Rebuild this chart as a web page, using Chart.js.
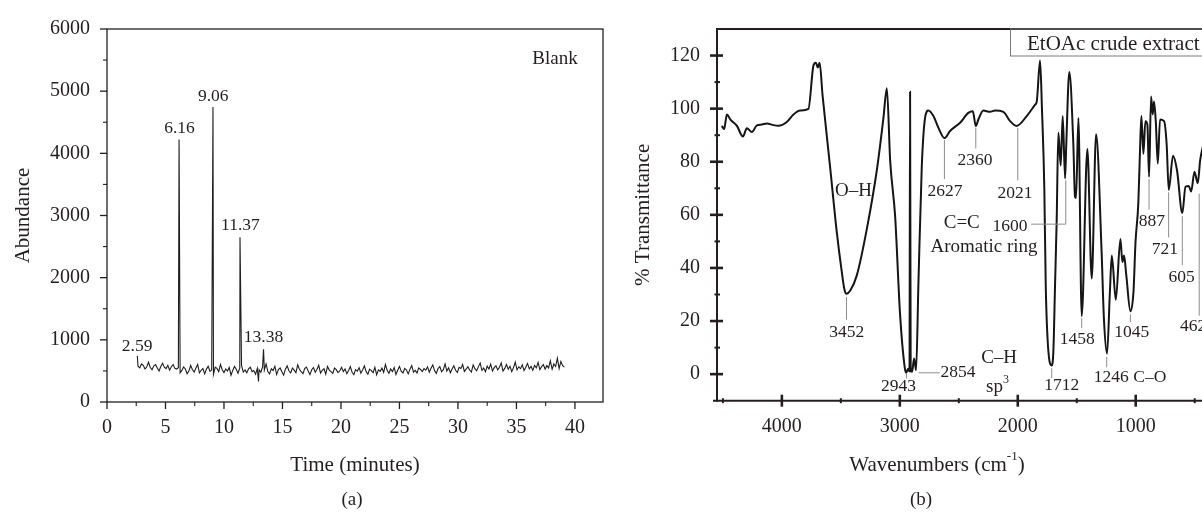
<!DOCTYPE html>
<html><head><meta charset="utf-8">
<script src="https://cdn.jsdelivr.net/npm/chart.js@4/dist/chart.umd.min.js"></script>
<style>
html,body{margin:0;padding:0;background:#fff;overflow:hidden;width:1202px;height:512px;position:relative;}
#ca{position:absolute;left:0;top:0;}
#cb{position:absolute;left:610px;top:0;}
</style></head><body>
<canvas id="ca" width="620" height="512"></canvas>
<canvas id="cb" width="620" height="512"></canvas>
<script>
// ---------- Panel (a): GC chromatogram (Blank) ----------
const gcStart = 2.65, gcStep = 0.15;
const gcBaseline = [
575,548,612,590,530,566,640,555,520,583,601,547,498,572,625,560,538,590,512,568,603,541,530,
552,470,508,563,531,455,497,588,522,480,546,605,468,510,537,452,529,574,493,515,446,560,541,488,603,519,474,532,498,556,431,508,571,526,462,545,590,482,517,470,533,559,489,505,448,541,520,
478,566,515,612,490,453,534,507,575,441,520,548,486,432,529,581,503,467,544,512,473,598,526,489,455,537,562,498,441,519,553,480,527,590,466,508,535,447,571,513,490,458,546,521,474,502,559,
488,532,455,507,569,478,440,521,496,553,463,515,582,490,447,528,506,471,559,438,517,493,545,476,603,509,462,531,488,556,444,512,573,497,468,540,515,452,528,586,481,509,466,548,523,490,537,
512,566,478,543,597,505,460,538,571,489,520,615,497,548,470,532,584,511,476,559,540,603,492,528,566,515,481,596,537,502,569,626,510,545,488,577,531,609,498,552,
584,516,558,629,497,541,603,526,575,489,553,642,518,566,537,598,505,560,621,534,572,509,590,550,636,522,568,601,530,585,548,664,527,612,571,705,538,652,583,560
];
const gcSpikeTimes  = [2.59, 6.16, 9.06, 11.37, 12.95, 13.38];
const gcSpikeValues = [742, 4224, 4744, 2650, 330, 849];
const gcPeakLabels  = ['2.59', '6.16', '9.06', '11.37', '13.38'];
const gcXTicks = [0, 5, 10, 15, 20, 25, 30, 35, 40];
const gcXMinor = [2.5, 7.5, 12.5, 17.5, 22.5, 27.5, 32.5, 37.5];
const gcYTicks = [0, 1000, 2000, 3000, 4000, 5000, 6000];
const gcYMinor = [500, 1500, 2500, 3500, 4500, 5500];

// ---------- Panel (b): FTIR spectrum (EtOAc crude extract) ----------
const irWn = [4509,4490,4466,4438,4381,4330,4297,4254,4212,4170,4127,4071,4030,3958,3902,3845,3775,3732,3712,3695,
3680,3655,3591,3534,3492,3470,3452,3420,3364,3280,3195,3139,3110,3082,3040,2998,2960,2947,2930,2918,
2913,2908,2896,2879,2862,2842,2814,2786,2758,2715,2673,2622,2574,2489,2419,2381,2356,2334,2292,2235,
2192,2122,2065,2010,1924,1853,1839,1811,1795,1775,1763,1741,1712,1698,1684,1670,1656,1636,1619,1599,
1590,1563,1529,1515,1506,1486,1458,1410,1373,1336,1290,1270,1243,1220,1203,1169,1130,1113,1099,1080,
1045,1019,1002,978,963,952,935,918,901,887,870,856,845,830,813,794,760,738,720,684,650,605,578,550,530,502,474,454,430];
const irT = [93.5,92.3,97.8,96,93.5,89.5,92.6,91.2,93.7,94,94.4,93.8,93.6,95,97.8,99.3,99.9,116.3,117.3,115.5,
117.3,105,78,53.3,38.5,32,30.3,31.5,37.3,54.6,76.8,96.5,107.7,80.5,59.6,22.5,3,0.5,2,1,
106.4,1,0.9,5.9,1.5,34.8,78,96.5,99.3,97.2,92.8,88.9,91.6,94.7,98.4,99,93.5,95.9,99.3,98.8,
99.3,98.8,95.3,93.5,97.2,101.5,102.7,118.1,100,70,33.6,8.9,3.3,8.9,33.7,58.3,91,78.6,97.2,73.7,
85,113.8,86.7,66.9,66.3,96.5,21.9,84.8,36,90.4,47,21.2,7.7,29.9,44.7,28,50.9,42.2,44.7,37.3,
23.7,31.1,49.6,64.4,85.4,97.2,83,95.3,94,74.3,104.6,97.8,102.7,95.3,79.3,95.9,95.3,86.7,69.4,82.3,
76.8,60.7,70.6,70.9,68.8,76.2,71.9,80.5,86];
const irXTicks = [4000, 3000, 2000, 1000];
const irXMinor = [4500, 3500, 2500, 1500, 500];
const irYTicks = [0, 20, 40, 60, 80, 100, 120];
const irYMinor = [10, 30, 50, 70, 90, 110];
const irPeakLabels = ['3452','2943','2854','1712','1458','1246 C–O','1045','462','605','721','887','2627','2360','2021','1600'];

// ---------- helpers ----------
const FONT = "'Liberation Serif', 'Times New Roman', serif";
const INK = '#231f20';
const LEAD = '#8c8c8c';
function txt(ctx, s, x, y, size, align, base) {
  ctx.font = size + 'px ' + FONT; ctx.fillStyle = INK;
  ctx.textAlign = align || 'center'; ctx.textBaseline = base || 'middle';
  ctx.fillText(s, x, y);
}
function seg(ctx, x1, y1, x2, y2, w, c) {
  ctx.beginPath(); ctx.lineWidth = w; ctx.strokeStyle = c || INK;
  ctx.moveTo(x1, y1); ctx.lineTo(x2, y2); ctx.stroke();
}
function supText(ctx, base, sup, tail, cx, cy, size) {
  ctx.font = size + 'px ' + FONT; const w1 = ctx.measureText(base).width; const w3 = ctx.measureText(tail).width;
  const ss = Math.round(size * 0.62);
  ctx.font = ss + 'px ' + FONT; const w2 = ctx.measureText(sup).width;
  let x = cx - (w1 + w2 + w3) / 2;
  txt(ctx, base, x, cy, size, 'left'); x += w1;
  txt(ctx, sup, x, cy - size * 0.38, ss, 'left'); x += w2;
  txt(ctx, tail, x, cy, size, 'left');
}
function vTitle(ctx, s, x, y, size) {
  ctx.save(); ctx.translate(x, y); ctx.rotate(-Math.PI / 2); txt(ctx, s, 0, 0, size); ctx.restore();
}

// ---------- build panel (a) series ----------
const gcPoints = gcBaseline.map((v, i) => ({x: +(gcStart + i * gcStep).toFixed(3), y: v}));
gcSpikeTimes.forEach((t, i) => gcPoints.push({x: t, y: gcSpikeValues[i]}));
gcPoints.sort((a, b) => a.x - b.x);

const gcLabelSpots = [[2.58, 901], [6.2, 4399], [9.08, 4908], [11.41, 2846], [13.38, 1045]];

const gcDeco = {
  id: 'gcDeco',
  afterDraw(chart) {
    const {ctx, chartArea: a, scales: {x, y}} = chart;
    ctx.save();
    ctx.lineWidth = 1.3; ctx.strokeStyle = INK;
    ctx.strokeRect(a.left, a.top, a.right - a.left, a.bottom - a.top);
    gcXTicks.forEach(v => { const p = x.getPixelForValue(v); seg(ctx, p, a.bottom, p, a.bottom + 7, 1.3); });
    gcXMinor.forEach(v => { const p = x.getPixelForValue(v); seg(ctx, p, a.bottom, p, a.bottom + 4, 1.1); });
    gcYTicks.forEach(v => { const p = y.getPixelForValue(v); seg(ctx, a.left - 7, p, a.left, p, 1.3); });
    gcYMinor.forEach(v => { const p = y.getPixelForValue(v); seg(ctx, a.left - 4, p, a.left, p, 1.1); });
    gcLabelSpots.forEach((s, i) => txt(ctx, gcPeakLabels[i], x.getPixelForValue(s[0]), y.getPixelForValue(s[1]), 17.5));
    txt(ctx, 'Blank', x.getPixelForValue(38.3), y.getPixelForValue(5510), 19);
    vTitle(ctx, 'Abundance', 23, (a.top + a.bottom) / 2, 21);
    txt(ctx, 'Time (minutes)', (a.left + a.right) / 2, 465, 21);
    txt(ctx, '(a)', 352, 500, 19);
    ctx.restore();
  }
};

new Chart(document.getElementById('ca'), {
  type: 'line',
  data: { datasets: [{ data: gcPoints, borderColor: '#1e1e1e', borderWidth: 1.1, pointRadius: 0, tension: 0 }] },
  options: {
    responsive: false, animation: false, devicePixelRatio: 1,
    layout: { padding: { top: 24, right: 17, left: 0, bottom: 0 } },
    plugins: { legend: { display: false }, tooltip: { enabled: false } },
    scales: {
      x: {
        type: 'linear', min: 0, max: 42.4,
        afterBuildTicks: s => { s.ticks = gcXTicks.map(v => ({value: v})); },
        afterFit: s => { s.height = 110; },
        grid: { display: false, drawTicks: false }, border: { display: false },
        ticks: { padding: 14, color: INK, font: { family: FONT, size: 20 }, maxRotation: 0, autoSkip: false, callback: v => String(v) }
      },
      y: {
        type: 'linear', min: 0, max: 6000,
        afterBuildTicks: s => { s.ticks = gcYTicks.map(v => ({value: v})); },
        afterFit: s => { s.width = 107; },
        grid: { display: false, drawTicks: false }, border: { display: false },
        ticks: { padding: 17, color: INK, font: { family: FONT, size: 20 }, autoSkip: false, callback: v => String(v) }
      }
    }
  },
  plugins: [gcDeco]
});

// ---------- panel (b) ----------
const irPoints = irWn.map((w, i) => ({x: w, y: irT[i]}));
// label anchors [wavenumber, %T, size, align]
const irLabelSpots = [
  [3449, 15.9, 17.5, 'center'], [3012, -4.7, 17.5, 'center'], [2655, 0.5, 17.5, 'left'],
  [1627, -4.4, 17.5, 'center'], [1495, 13.2, 17.5, 'center'], [1048, -1.2, 17.5, 'center'],
  [1034, 15.7, 17.5, 'center'], [625, 18.1, 17.5, 'left'], [610, 36.3, 17.5, 'center'],
  [752, 47.1, 17.5, 'center'], [864, 57.7, 17.5, 'center'], [2616, 68.7, 17.5, 'center'],
  [2362, 80.5, 17.5, 'center'], [2023, 67.9, 17.5, 'center'], [2065, 55.8, 17.5, 'center']
];
const irLeaders = [
  [[3452, 29], [3452, 20.5]], [[2943, 0.4], [2943, -1.6]], [[2842, 0.5], [2660, 0.5]],
  [[1712, 2.2], [1712, -1.5]], [[1458, 21], [1458, 17.3]], [[1246, 6.5], [1246, 2.6]],
  [[1045, 22.5], [1045, 19.6]], [[462, 68], [462, 22]], [[605, 59.5], [605, 41]],
  [[721, 68.5], [721, 51.5]], [[887, 73.5], [887, 62]], [[2622, 88.2], [2622, 73.5]],
  [[2356, 92.8], [2356, 85]], [[2000, 92.8], [2000, 73]], [[1887, 56.5], [1593, 56.5], [1593, 73]]
];

const irDeco = {
  id: 'irDeco',
  afterDraw(chart) {
    const {ctx, chartArea: a, scales: {x, y}} = chart;
    ctx.save();
    seg(ctx, a.left, a.top - 1, a.left, a.bottom + 1, 2);
    seg(ctx, a.left - 4, a.bottom, a.right, a.bottom, 2);
    seg(ctx, a.left - 1, a.top, chart.width, a.top, 2);
    irXTicks.forEach(v => { const p = x.getPixelForValue(v); seg(ctx, p, a.bottom - 6, p, a.bottom + 6, 2.6); });
    irXMinor.forEach(v => { const p = x.getPixelForValue(v); seg(ctx, p, a.bottom - 2.5, p, a.bottom + 2.5, 2); });
    irYTicks.forEach(v => { const p = y.getPixelForValue(v); seg(ctx, a.left - 7, p, a.left + 6, p, 2.6); });
    irYMinor.forEach(v => { const p = y.getPixelForValue(v); seg(ctx, a.left - 2.5, p, a.left + 3, p, 2); });
    irLeaders.forEach(pts => {
      ctx.beginPath(); ctx.lineWidth = 1; ctx.strokeStyle = LEAD;
      pts.forEach((p, i) => { const px = x.getPixelForValue(p[0]), py = y.getPixelForValue(p[1]); i ? ctx.lineTo(px, py) : ctx.moveTo(px, py); });
      ctx.stroke();
    });
    irLabelSpots.forEach((s, i) => txt(ctx, irPeakLabels[i], x.getPixelForValue(s[0]), y.getPixelForValue(s[1]), s[2], s[3]));
    txt(ctx, 'O–H', x.getPixelForValue(3393), y.getPixelForValue(68.8), 19);
    txt(ctx, 'C–H', x.getPixelForValue(2158), y.getPixelForValue(6.2), 19);
    supText(ctx, 'sp', '3', '', x.getPixelForValue(2172), y.getPixelForValue(-4.7), 19);
    txt(ctx, 'C=C', x.getPixelForValue(2475), y.getPixelForValue(57), 19);
    txt(ctx, 'Aromatic ring', x.getPixelForValue(2286), y.getPixelForValue(47.8), 19);
    ctx.lineWidth = 1; ctx.strokeStyle = '#7a7a7a';
    ctx.strokeRect(400.5, a.top, 220, 27);
    txt(ctx, 'EtOAc crude extract', 417, a.top + 15, 21, 'left');
    vTitle(ctx, '% Transmittance', 33, (a.top + a.bottom) / 2, 21);
    supText(ctx, 'Wavenumbers (cm', '-1', ')', 327, 465, 21);
    txt(ctx, '(b)', 311, 500, 19);
    ctx.restore();
  }
};

new Chart(document.getElementById('cb'), {
  type: 'line',
  data: { datasets: [{ data: irPoints, borderColor: '#151515', borderWidth: 2, pointRadius: 0, cubicInterpolationMode: 'monotone' }] },
  options: {
    responsive: false, animation: false, devicePixelRatio: 1,
    layout: { padding: { top: 24, right: 23.5, left: 0, bottom: 0 } },
    plugins: { legend: { display: false }, tooltip: { enabled: false } },
    scales: {
      x: {
        type: 'linear', min: 400, max: 4550, reverse: true,
        afterBuildTicks: s => { s.ticks = irXTicks.map(v => ({value: v})); },
        afterFit: s => { s.height = 111.3; },
        grid: { display: false, drawTicks: false }, border: { display: false },
        ticks: { padding: 14, color: INK, font: { family: FONT, size: 20 }, maxRotation: 0, autoSkip: false, callback: v => String(v) }
      },
      y: {
        type: 'linear', min: -10, max: 130,
        afterBuildTicks: s => { s.ticks = irYTicks.map(v => ({value: v})); },
        afterFit: s => { s.width = 107; },
        grid: { display: false, drawTicks: false }, border: { display: false },
        ticks: { padding: 17, color: INK, font: { family: FONT, size: 20 }, autoSkip: false, callback: v => String(v) }
      }
    }
  },
  plugins: [irDeco]
});
</script>
</body></html>
